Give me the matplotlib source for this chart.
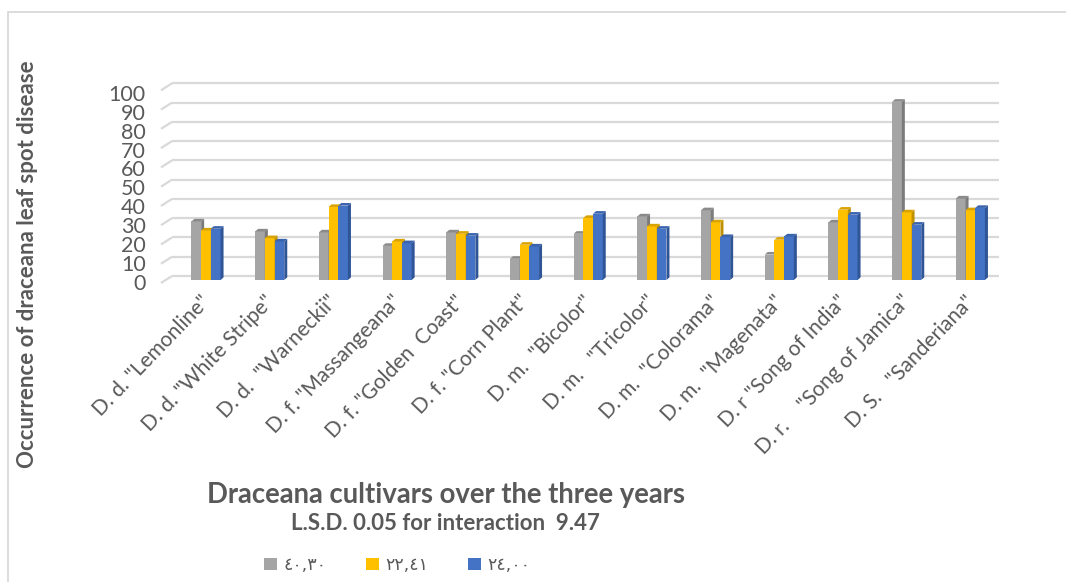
import matplotlib
matplotlib.use("Agg")
import matplotlib.pyplot as plt
from matplotlib.patches import Polygon, Patch, Rectangle

# ---- data -------------------------------------------------------------
cultivars = [
    'D. d. "Lemonline"',
    'D. d. "White Stripe"',
    'D. d.  "Warneckii"',
    'D. f. "Massangeana"',
    'D. f. "Golden  Coast"',
    'D. f. "Corn Plant"',
    'D. m.  "Bicolor"',
    'D. m.   "Tricolor"',
    'D. m.  "Colorama"',
    'D. m.  "Magenata"',
    'D. r "Song of India"',
    'D. r.    "Song of Jamica"',
    'D. S.   "Sanderiana"',
]
series_labels = ["٤٠,٣٠", "٢٢,٤١", "٢٤,٠٠"]
season_1 = [30.4, 25.2, 24.7, 17.7, 24.7, 11.0, 24.0, 33.0, 36.2, 13.2, 29.9, 92.5, 42.3]
season_2 = [25.7, 21.7, 37.9, 20.0, 24.0, 18.3, 32.2, 27.8, 29.9, 20.9, 36.5, 35.1, 36.2]
season_3 = [26.6, 20.0, 38.6, 19.1, 23.0, 17.4, 34.4, 26.6, 22.3, 22.6, 33.9, 28.7, 37.4]
y_ticks = list(range(0, 101, 10))

title = "Draceana cultivars over the three years"
subtitle = "L.S.D. 0.05 for interaction  9.47"
y_title = "Occurrence of draceana leaf spot disease"

# ---- style ------------------------------------------------------------
FONT = ["Lato", "DejaVu Sans"]
TEXT = "#595959"
GRID = "#d9d9d9"
front_colors = ["#a5a5a5", "#ffc000", "#4472c4"]
side_colors = ["#7b7b7b", "#bf9000", "#2f5597"]
top_colors = ["#8a8a8a", "#d9a300", "#3a63ad"]

W, H = 1066, 582
fig = plt.figure(figsize=(W / 100, H / 100), dpi=100)
fig.patch.set_facecolor("white")


def rect_px(left, top, right, bottom):
    return [left / W, 1 - bottom / H, (right - left) / W, (bottom - top) / H]


# outer chart border (left and top edges visible)
fig.patches.append(Rectangle((8 / W, -0.1), 1.2, 1 - 12 / H + 0.1,
                             transform=fig.transFigure, fill=False,
                             edgecolor=GRID, linewidth=1.3))

# main plotting axes: category units on x, values on y
X0, DXP = 206.0, 63.7       # pixel of first category, pixels per category
Y0, DYP = 280.0, 1.927      # pixel of value 0, pixels per unit
xlim = (-0.8, 12.5)
ylim = (-3.0, 106.0)
ax = fig.add_axes(rect_px(X0 + xlim[0] * DXP, Y0 - ylim[1] * DYP,
                          X0 + xlim[1] * DXP, Y0 - ylim[0] * DYP))
ax.set_xlim(*xlim)
ax.set_ylim(*ylim)
ax.axis("off")

# back-wall gridlines with a short slanted floor edge on the left
floor_x, wall_x = -45 / DXP, -34 / DXP
floor_dy, wall_dy = -3 / DYP, 4 / DYP
for v in y_ticks:
    ax.plot([floor_x, wall_x], [v + floor_dy, v + wall_dy],
            color=GRID, lw=1.6, zorder=1, solid_capstyle="butt")
    ax.plot([wall_x, 12.45], [v + wall_dy, v + wall_dy],
            color=GRID, lw=1.6, zorder=1, solid_capstyle="butt")

# clustered 3-D style columns
bar_w = 9.7 / DXP
depth_x, depth_y = 3.0 / DXP, 2.6 / DYP
positions = list(range(len(cultivars)))
for k, vals in enumerate([season_1, season_2, season_3]):
    xs = [p + (k - 1) * bar_w for p in positions]
    bars = ax.bar(xs, vals, width=bar_w, color=front_colors[k],
                  edgecolor="none", zorder=2 + k)
    for b in bars:
        x, w, h = b.get_x(), b.get_width(), b.get_height()
        side = Polygon([(x + w, 0), (x + w, h), (x + w + depth_x, h + depth_y),
                        (x + w + depth_x, depth_y)], closed=True,
                       facecolor=side_colors[k], edgecolor="none", zorder=2 + k)
        top = Polygon([(x, h), (x + w, h), (x + w + depth_x, h + depth_y),
                       (x + depth_x, h + depth_y)], closed=True,
                      facecolor=top_colors[k], edgecolor="none", zorder=2 + k)
        ax.add_patch(side)
        ax.add_patch(top)

# category labels, rotated, ending under each cluster
for p, name in zip(positions, cultivars):
    ax.text(p + 1 / DXP, -9.5, name, rotation=46, rotation_mode="anchor",
            ha="right", va="center", fontsize=15, color=TEXT,
            family=FONT)

# value axis labels on their own scale
ax_lbl = fig.add_axes(rect_px(150, 93, 151, 281.7))
ax_lbl.set_ylim(0, 100)
ax_lbl.set_yticks(y_ticks)
ax_lbl.set_yticklabels([str(t) for t in y_ticks], fontsize=15.5,
                       color=TEXT, family=FONT)
ax_lbl.tick_params(axis="y", length=0, pad=3)
ax_lbl.set_xticks([])
for s in ax_lbl.spines.values():
    s.set_visible(False)
ax_lbl.patch.set_alpha(0)

# titles
fig.text(28 / W, 1 - 264 / H, y_title, rotation=90, ha="center", va="center",
         fontsize=16, fontweight="bold", color=TEXT, family=FONT)
fig.text(446 / W, 1 - 495 / H, title, ha="center", va="center",
         fontsize=19.8, fontweight="bold", color=TEXT, family=FONT)
fig.text(445 / W, 1 - 524 / H, subtitle, ha="center", va="center",
         fontsize=16, fontweight="bold", color=TEXT, family=FONT)

# legend
handles = [Patch(facecolor=c, edgecolor="none") for c in front_colors]
fig.legend(handles, series_labels, loc="center left",
           bbox_to_anchor=(264 / W, 1 - 565 / H), ncol=3, frameon=False,
           borderpad=0, borderaxespad=0,
           handlelength=0.75, handleheight=0.75, handletextpad=0.35,
           columnspacing=2.3,
           prop={"family": ["DejaVu Sans"], "size": 12.5},
           labelcolor=TEXT)

fig.savefig("out.png", dpi=100)
